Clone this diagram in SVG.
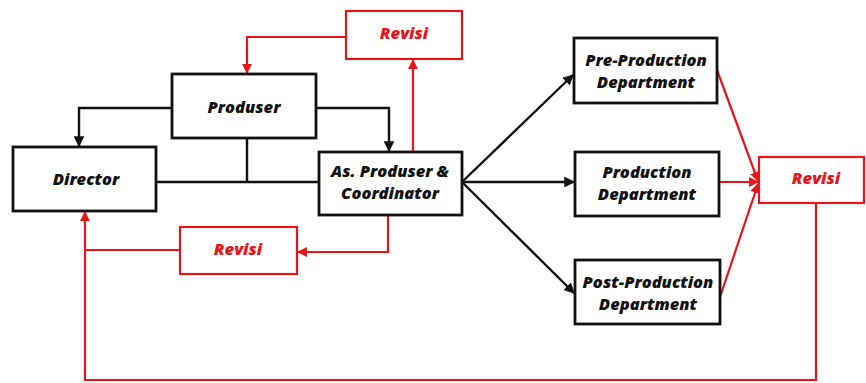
<svg xmlns="http://www.w3.org/2000/svg" width="866" height="383" viewBox="0 0 866 383">
<style>
.box{fill:#fff;stroke:#111;stroke-width:2.8}
.rbox{fill:#fff;stroke:#e8141b;stroke-width:2.2}
.t{font-family:"Open Sans","Liberation Sans",sans-serif;font-weight:800;font-style:italic;font-size:16.5px;fill:#111;text-anchor:middle}
.rt{fill:#e8141b}
.k{fill:none;stroke:#111;stroke-width:2.4}
.r{fill:none;stroke:#e8141b;stroke-width:2.2}
</style>
<defs>
<marker id="ak" viewBox="0 0 10 10" refX="9" refY="5" markerWidth="4.5" markerHeight="4.5" orient="auto" markerUnits="strokeWidth"><path d="M0,0 L10,5 L0,10 z" fill="#111"/></marker>
<marker id="ar" viewBox="0 0 10 10" refX="9" refY="5" markerWidth="4.5" markerHeight="4.5" orient="auto" markerUnits="strokeWidth"><path d="M0,0 L10,5 L0,10 z" fill="#e8141b"/></marker>
</defs>
<rect width="866" height="383" fill="#fff"/>
<g id="connectors">
<path class="k" d="M172,108 H79 V146" marker-end="url(#ak)"/>
<path class="k" d="M316,108 H389 V151" marker-end="url(#ak)"/>
<path class="k" d="M247,138 V182"/>
<path class="k" d="M156,182 H319"/>
<path class="k" d="M462,182 L573,75" marker-end="url(#ak)"/>
<path class="k" d="M462,182 H574" marker-end="url(#ak)"/>
<path class="k" d="M462,182 L574,293" marker-end="url(#ak)"/>
<path class="r" d="M346,37 H247 V73" marker-end="url(#ar)"/>
<path class="r" d="M413,152 V60" marker-end="url(#ar)"/>
<path class="r" d="M388,215 V252 H298" marker-end="url(#ar)"/>
<path class="r" d="M180,250 H85"/>
<path class="r" d="M816,203 V380 H85 V212" marker-end="url(#ar)"/>
<path class="r" d="M717,70 L758,181" marker-end="url(#ar)"/>
<path class="r" d="M720,182 H758" marker-end="url(#ar)"/>
<path class="r" d="M720,297 L758,184" marker-end="url(#ar)"/>
</g>
<g id="revisi-top"><rect class="rbox" x="346" y="11" width="116" height="48"/><text class="t rt" x="404" y="39">Revisi</text></g>
<g id="produser"><rect class="box" x="172" y="74" width="144" height="64"/><text class="t" x="244" y="113">Produser</text></g>
<g id="director"><rect class="box" x="13" y="147" width="143" height="64"/><text class="t" x="86" y="185">Director</text></g>
<g id="as-produser"><rect class="box" x="319" y="152" width="143" height="63"/><text class="t" x="390" y="177">As. Produser &amp;</text><text class="t" x="390" y="199">Coordinator</text></g>
<g id="revisi-bottom"><rect class="rbox" x="180" y="227" width="117" height="47"/><text class="t rt" x="238" y="255">Revisi</text></g>
<g id="pre-production"><rect class="box" x="574" y="38" width="143" height="65"/><text class="t" x="646" y="66">Pre-Production</text><text class="t" x="646" y="88">Department</text></g>
<g id="production"><rect class="box" x="575" y="152" width="144" height="64"/><text class="t" x="647" y="178">Production</text><text class="t" x="647" y="200">Department</text></g>
<g id="post-production"><rect class="box" x="575" y="260" width="145" height="64"/><text class="t" x="648" y="288">Post-Production</text><text class="t" x="648" y="310">Department</text></g>
<g id="revisi-right"><rect class="rbox" x="759" y="157" width="105" height="46"/><text class="t rt" x="816" y="184">Revisi</text></g>
</svg>
